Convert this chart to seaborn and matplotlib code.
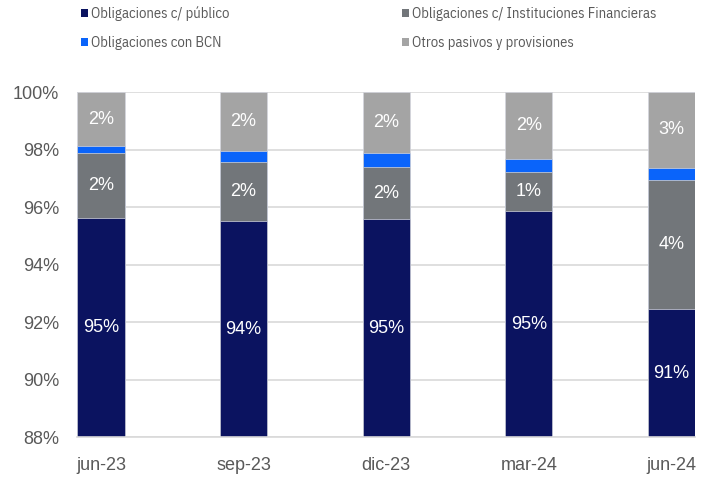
import numpy as np
import pandas as pd
import matplotlib.pyplot as plt
import seaborn as sns
from matplotlib.patches import Patch

# -----------------------------
# Datos
# -----------------------------
fechas = ["jun-23", "sep-23", "dic-23", "mar-24", "jun-24"]
publico = [95.62, 95.53, 95.58, 95.88, 92.46]
instituciones = [2.26, 2.06, 1.83, 1.34, 4.49]
bcn = [0.26, 0.37, 0.48, 0.46, 0.43]
otros = [1.86, 2.04, 2.11, 2.32, 2.62]

lbl_publico = ["95%", "94%", "95%", "95%", "91%"]
lbl_inst = ["2%", "2%", "2%", "1%", "4%"]
lbl_otros = ["2%", "2%", "2%", "2%", "3%"]

series = ["Obligaciones c/ público", "Obligaciones c/ Instituciones Financieras",
          "Obligaciones con BCN", "Otros pasivos y provisiones"]
colores = ["#0b1360", "#72767a", "#0a64fa", "#a4a4a4"]

df = pd.DataFrame({"fecha": fechas, "publico": publico, "inst": instituciones,
                   "bcn": bcn, "otros": otros})
df["c1"] = df["publico"]
df["c2"] = df["c1"] + df["inst"]
df["c3"] = df["c2"] + df["bcn"]
df["c4"] = df["c3"] + df["otros"]

# -----------------------------
# Estilo
# -----------------------------
sns.set_style("white")
plt.rcParams["font.family"] = ["Liberation Sans", "DejaVu Sans"]

w = 0.3317
fig = plt.figure(figsize=(7.12, 4.8), dpi=100)
ax = fig.add_axes([0.1086, 0.0890, 0.8676, 0.71875])

# barras apiladas: de la suma total hacia abajo
for col, color in zip(["c4", "c3", "c2", "c1"], colores[::-1]):
    sns.barplot(data=df, x="fecha", y=col, color=color, width=w, ax=ax,
                saturation=1, edgecolor="#d4d6de", linewidth=0.5, errorbar=None)

ax.set_ylim(88, 100)
ax.set_xlim(-w / 2, len(fechas) - 1 + w / 2)
ax.set_yticks(np.arange(88, 101, 2))
ax.set_yticklabels([f"{v}%" for v in range(88, 101, 2)])
ax.set_xlabel("")
ax.set_ylabel("")

ax.yaxis.grid(True, color="#d9d9d9", linewidth=1.2)
ax.set_axisbelow(True)
for s in ["top", "right", "left"]:
    ax.spines[s].set_visible(False)
ax.spines["bottom"].set_color("#d9d9d9")
ax.spines["bottom"].set_linewidth(1.2)

ax.tick_params(axis="y", length=0, pad=13, labelsize=13, labelcolor="#595959")
ax.tick_params(axis="x", which="major", length=0, pad=14, labelsize=13,
               labelcolor="#595959")
ax.set_xticks([i - w / 2 for i in range(len(fechas))], minor=True)
ax.tick_params(axis="x", which="minor", length=5, width=1.2, color="#d9d9d9")

# etiquetas
for i in range(len(fechas)):
    ax.text(i, (88 + df["c1"][i]) / 2, lbl_publico[i], ha="center", va="center",
            color="white", fontsize=13)
    ax.text(i, (df["c1"][i] + df["c2"][i]) / 2, lbl_inst[i], ha="center",
            va="center", color="white", fontsize=13)
    ax.text(i, (df["c3"][i] + df["c4"][i]) / 2, lbl_otros[i], ha="center",
            va="center", color="white", fontsize=13)

orden = [0, 2, 1, 3]
handles = [Patch(facecolor=colores[k], edgecolor="none", label=series[k]) for k in orden]
fig.legend(handles=handles, loc="upper left", bbox_to_anchor=(0.1133, 0.9875),
           ncol=2, frameon=False, handlelength=0.5, handleheight=0.5,
           handletextpad=0.23, columnspacing=11.8, labelspacing=1.06, borderpad=0,
           borderaxespad=0,
           prop={"family": ["IBM Plex Sans Condensed", "Liberation Sans"], "size": 10.5},
           labelcolor="#595959")

fig.savefig("out.png", dpi=100)
